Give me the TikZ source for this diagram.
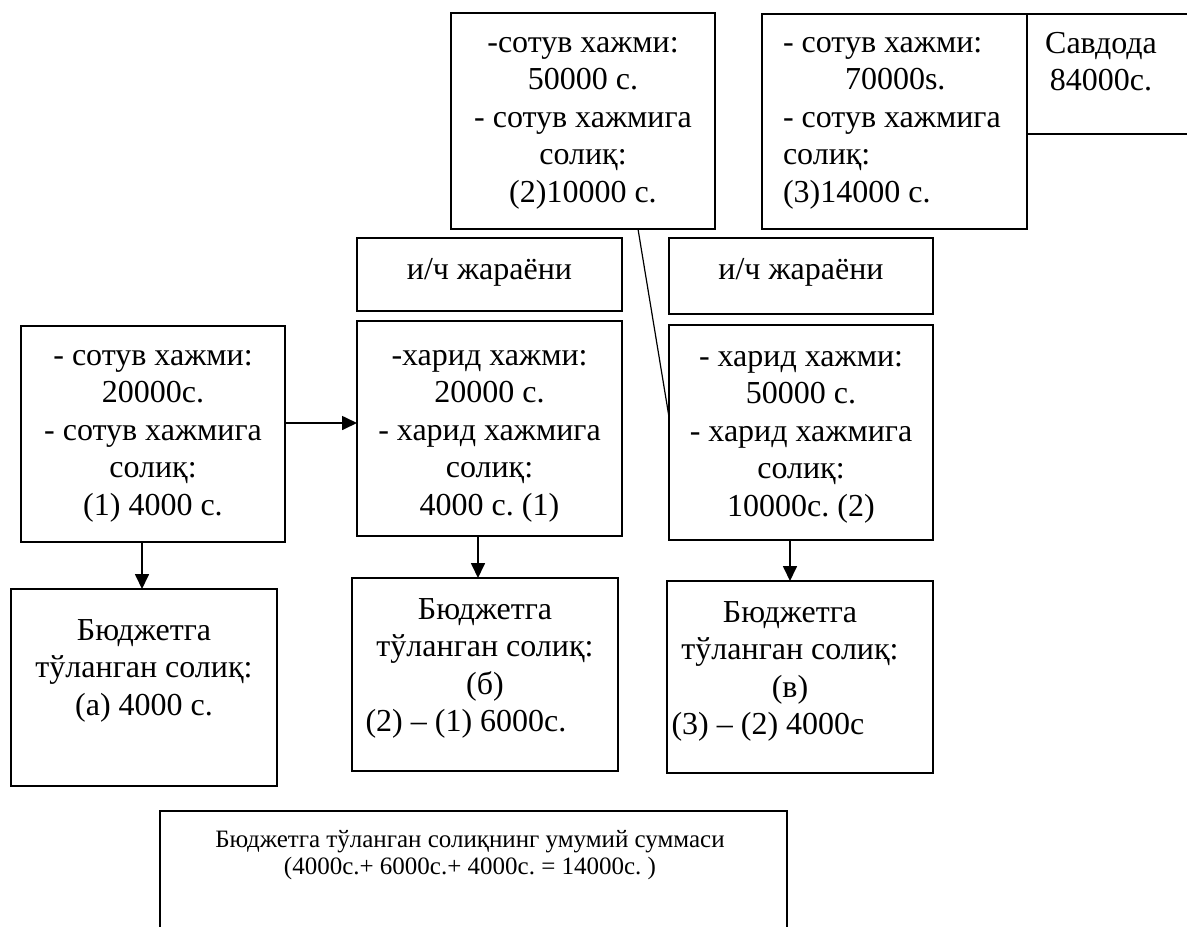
\documentclass[tikz,border=0pt]{standalone}
\usepackage{fontspec}
\setmainfont{Liberation Serif}
\usetikzlibrary{arrows.meta,calc}
\frenchspacing
\tikzset{
  box/.style={draw=black, line width=1.7pt, rectangle, inner sep=0pt, outer sep=0pt, anchor=north west},
  txt/.style={inner sep=0pt, outer sep=0pt, align=center, anchor=north, font=\fontsize{32}{37.5}\selectfont},
  txtl/.style={txt, align=left, anchor=north west},
  arr/.style={line width=1.7pt, -{Triangle[length=15pt,width=14pt]}},
  thin/.style={line width=1.2pt}
}
\begin{document}
\begin{tikzpicture}[x=1pt,y=-1pt]
\useasboundingbox (0,0) rectangle (1187,927);
% boxes
\node[box, minimum width=264pt, minimum height=216pt] (boxA) at (451,13) {};
\node[box, minimum width=265pt, minimum height=215pt] (boxB) at (762,14) {};
\node[box, minimum width=165pt, minimum height=120pt] (savd) at (1027,14) {};
\node[box, minimum width=265pt, minimum height=73pt] (ipL) at (357,238) {};
\node[box, minimum width=264pt, minimum height=76pt] (ipR) at (669,238) {};
\node[box, minimum width=264pt, minimum height=216pt] (s1) at (21,326) {};
\node[box, minimum width=265pt, minimum height=215pt] (p1) at (357,321) {};
\node[box, minimum width=264pt, minimum height=215pt] (p2) at (669,325) {};
\node[box, minimum width=266pt, minimum height=197pt] (b1) at (11,589) {};
\node[box, minimum width=266pt, minimum height=193pt] (b2) at (352,578) {};
\node[box, minimum width=266pt, minimum height=192pt] (b3) at (667,581) {};
\node[box, minimum width=627pt, minimum height=125pt] (tot) at (160,811) {};
% texts
\node[txt] (tA) at (583,25.75) {\strut-сотув хажми:\\50000 с.\\- сотув хажмига\\солиқ:\\(2)10000 с.};
\node[txtl] (tB) at (783,25.75) {\strut- сотув хажми:\\\hspace*{62pt}70000s.\\- сотув хажмига\\солиқ:\\(3)14000 с.};
\node[txt] (tS) at (1101,26.75) {\strut Савдода\\84000с.};
\node[txt] (tipL) at (489.5,252.75) {\strut и/ч жараёни};
\node[txt] (tipR) at (801,252.75) {\strut и/ч жараёни};
\node[txt] (ts1) at (153,338.75) {\strut- сотув хажми:\\20000с.\\- сотув хажмига\\солиқ:\\(1) 4000 с.};
\node[txt] (tp1) at (489.5,338.75) {\strut-харид хажми:\\20000 с.\\- харид хажмига\\солиқ:\\4000 с. (1)};
\node[txt] (tp2) at (801,339.75) {\strut- харид хажми:\\50000 с.\\- харид хажмига\\солиқ:\\10000с. (2)};
\node[txt] (tb1) at (144,613.75) {\strut Бюджетга\\тўланган солиқ:\\(а) 4000 с.};
\node[txt] (tb2) at (485,592.75) {\strut Бюджетга\\тўланган солиқ:\\(б)\\(2) – (1) 6000с.\hspace*{38pt}};
\node[txt] (tb3) at (790,595.75) {\strut Бюджетга\\тўланган солиқ:\\(в)\\(3) – (2) 4000с\hspace*{44pt}};
\node[txt, font=\fontsize{25}{27}\selectfont] (ttot) at (470,829) {\strut Бюджетга тўланган солиқнинг умумий суммаси\\(4000с.+ 6000с.+ 4000с. = 14000с. )};
% connectors
\draw[arr] ([yshift=11pt]s1.east) -- ([yshift=11pt]s1.east -| p1.west);
\draw[arr] ([xshift=-11pt]s1.south) -- ([xshift=-11pt]s1.south |- b1.north);
\draw[arr] ([xshift=-11.5pt]p1.south) -- ([xshift=-11.5pt]p1.south |- b2.north);
\draw[arr] ([xshift=-11pt]p2.south) -- ([xshift=-11pt]p2.south |- b3.north);
\draw[thin] ([xshift=55pt]boxA.south) -- ([yshift=15.5pt]p2.west);
\end{tikzpicture}
\end{document}
